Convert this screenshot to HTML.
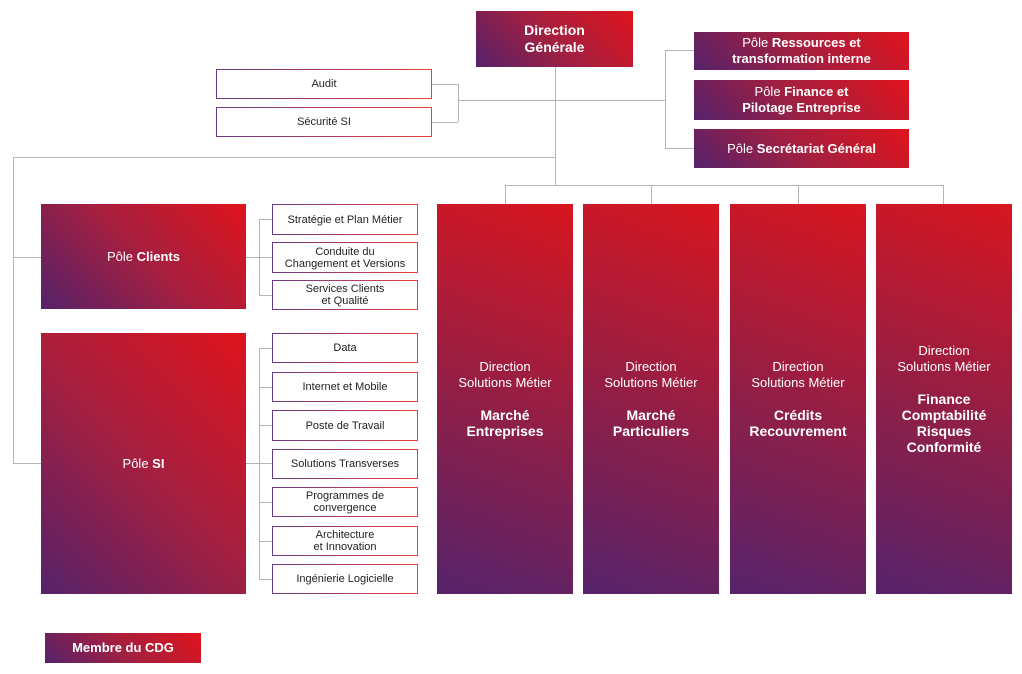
<!DOCTYPE html>
<html><head><meta charset="utf-8"><style>
body{margin:0;width:1022px;height:674px;background:#fff;position:relative;overflow:hidden;font-family:"Liberation Sans",sans-serif}
.l{position:absolute;background:#b5b5b5}
.g{position:absolute;color:#fff;display:flex;align-items:center;justify-content:center;text-align:center;background:linear-gradient(45deg,#55226a 0%,#a51f3f 50%,#e0141c 100%);font-size:13px;line-height:16px}
.c{position:absolute;color:#fff;text-align:center;background:linear-gradient(20deg,#56236b 0%,#8e1f48 45%,#d8161f 100%);font-size:13px;line-height:16px;display:flex;flex-direction:column;align-items:center;justify-content:center}
.s{position:absolute;box-sizing:border-box;border:1.5px solid;border-image:linear-gradient(to right,#6a3a8a,#e8403a) 1;display:flex;align-items:center;justify-content:center;text-align:center;font-size:11px;line-height:12px;color:#222;background:#fff}
b{font-weight:bold}
</style></head><body>
<div class="l" style="left:555px;top:67px;width:1px;height:118px"></div>
<div class="l" style="left:458px;top:100px;width:207px;height:1px"></div>
<div class="l" style="left:665px;top:50px;width:1px;height:98px"></div>
<div class="l" style="left:665px;top:50px;width:29px;height:1px"></div>
<div class="l" style="left:665px;top:148px;width:29px;height:1px"></div>
<div class="l" style="left:458px;top:84px;width:1px;height:38px"></div>
<div class="l" style="left:432px;top:84px;width:26px;height:1px"></div>
<div class="l" style="left:432px;top:122px;width:26px;height:1px"></div>
<div class="l" style="left:13px;top:157px;width:542px;height:1px"></div>
<div class="l" style="left:13px;top:157px;width:1px;height:306px"></div>
<div class="l" style="left:13px;top:257px;width:28px;height:1px"></div>
<div class="l" style="left:13px;top:463px;width:28px;height:1px"></div>
<div class="l" style="left:505px;top:185px;width:439px;height:1px"></div>
<div class="l" style="left:505px;top:185px;width:1px;height:19px"></div>
<div class="l" style="left:651px;top:185px;width:1px;height:19px"></div>
<div class="l" style="left:798px;top:185px;width:1px;height:19px"></div>
<div class="l" style="left:943px;top:185px;width:1px;height:19px"></div>
<div class="l" style="left:246px;top:257px;width:26px;height:1px"></div>
<div class="l" style="left:259px;top:219px;width:1px;height:76px"></div>
<div class="l" style="left:259px;top:219px;width:13px;height:1px"></div>
<div class="l" style="left:259px;top:295px;width:13px;height:1px"></div>
<div class="l" style="left:246px;top:463px;width:26px;height:1px"></div>
<div class="l" style="left:259px;top:348px;width:1px;height:231px"></div>
<div class="l" style="left:259px;top:348px;width:13px;height:1px"></div>
<div class="l" style="left:259px;top:387px;width:13px;height:1px"></div>
<div class="l" style="left:259px;top:425px;width:13px;height:1px"></div>
<div class="l" style="left:259px;top:502px;width:13px;height:1px"></div>
<div class="l" style="left:259px;top:541px;width:13px;height:1px"></div>
<div class="l" style="left:259px;top:579px;width:13px;height:1px"></div>

<div class="g" style="left:476px;top:11px;width:157px;height:56px;font-size:14px;line-height:17px"><b>Direction<br>Générale</b></div>
<div class="g" style="left:694px;top:32px;width:215px;height:38px;flex-direction:column"><span>Pôle <b>Ressources et</b></span><b>transformation interne</b></div>
<div class="g" style="left:694px;top:80px;width:215px;height:40px;flex-direction:column"><span>Pôle <b>Finance et</b></span><b>Pilotage Entreprise</b></div>
<div class="g" style="left:694px;top:129px;width:215px;height:39px"><span>Pôle <b>Secrétariat Général</b></span></div>

<div class="s" style="left:216px;top:69px;width:216px;height:30px">Audit</div>
<div class="s" style="left:216px;top:107px;width:216px;height:30px">Sécurité SI</div>

<div class="g" style="left:41px;top:204px;width:205px;height:105px"><span>Pôle <b>Clients</b></span></div>
<div class="g" style="left:41px;top:333px;width:205px;height:261px"><span>Pôle <b>SI</b></span></div>

<div class="s" style="left:272px;top:204px;width:146px;height:31px">Stratégie et Plan Métier</div>
<div class="s" style="left:272px;top:242px;width:146px;height:31px">Conduite du<br>Changement et Versions</div>
<div class="s" style="left:272px;top:280px;width:146px;height:30px">Services Clients<br>et Qualité</div>
<div class="s" style="left:272px;top:333px;width:146px;height:30px">Data</div>
<div class="s" style="left:272px;top:372px;width:146px;height:30px">Internet et Mobile</div>
<div class="s" style="left:272px;top:410px;width:146px;height:31px">Poste de Travail</div>
<div class="s" style="left:272px;top:449px;width:146px;height:30px">Solutions Transverses</div>
<div class="s" style="left:272px;top:487px;width:146px;height:30px">Programmes de<br>convergence</div>
<div class="s" style="left:272px;top:526px;width:146px;height:30px">Architecture<br>et Innovation</div>
<div class="s" style="left:272px;top:564px;width:146px;height:30px">Ingénierie Logicielle</div>

<div class="c" style="left:437px;top:204px;width:136px;height:390px"><div>Direction<br>Solutions Métier</div><div style="margin-top:16px;font-size:14px"><b>Marché<br>Entreprises</b></div></div>
<div class="c" style="left:583px;top:204px;width:136px;height:390px"><div>Direction<br>Solutions Métier</div><div style="margin-top:16px;font-size:14px"><b>Marché<br>Particuliers</b></div></div>
<div class="c" style="left:730px;top:204px;width:136px;height:390px"><div>Direction<br>Solutions Métier</div><div style="margin-top:16px;font-size:14px"><b>Crédits<br>Recouvrement</b></div></div>
<div class="c" style="left:876px;top:204px;width:136px;height:390px"><div>Direction<br>Solutions Métier</div><div style="margin-top:16px;font-size:14px"><b>Finance<br>Comptabilité<br>Risques<br>Conformité</b></div></div>

<div class="g" style="left:45px;top:633px;width:156px;height:30px"><b>Membre du CDG</b></div>
</body></html>
